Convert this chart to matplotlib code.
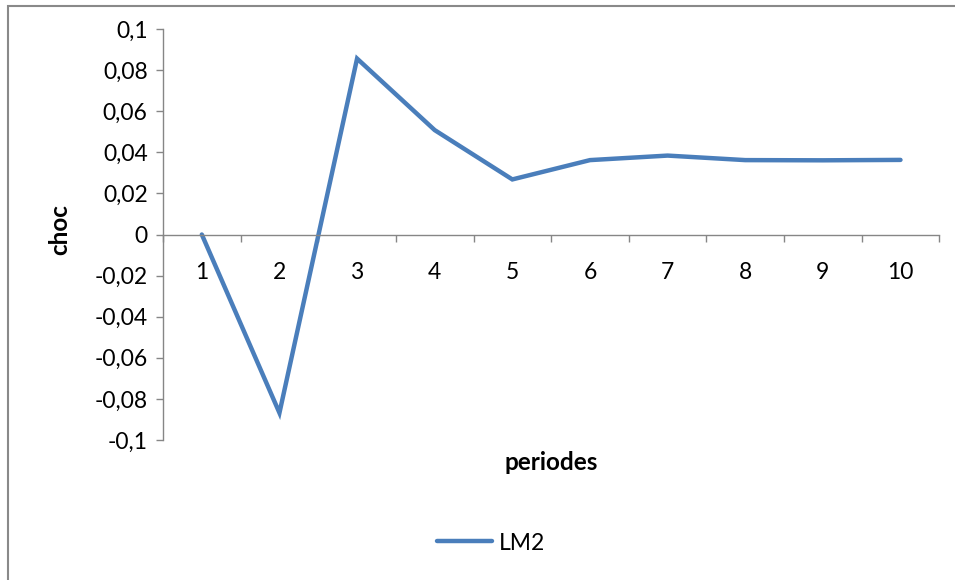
import matplotlib
matplotlib.use("Agg")
import matplotlib.pyplot as plt
from matplotlib.patches import Rectangle
from matplotlib.lines import Line2D
from matplotlib.ticker import FixedLocator, FuncFormatter

periods = [1, 2, 3, 4, 5, 6, 7, 8, 9, 10]
period_labels = ["1", "2", "3", "4", "5", "6", "7", "8", "9", "10"]
lm2 = [0.0, -0.0868, 0.0856, 0.0508, 0.0268, 0.0362, 0.0384, 0.0362, 0.0361, 0.0363]
yticks = [-0.1, -0.08, -0.06, -0.04, -0.02, 0.0, 0.02, 0.04, 0.06, 0.08, 0.1]

FONT = "Lato"
AXCOL = "#868686"
LINECOL = "#4A7EBB"
FS = 16.5
FSB = 17.5

plt.rcParams["font.family"] = [FONT, "DejaVu Sans"]

fig = plt.figure(figsize=(9.55, 5.8), dpi=100)
ax = fig.add_axes([163/955, 1-440/580, (939.3-163)/955, (440-29)/580])

ax.plot(periods, lm2, color=LINECOL, lw=3.2, solid_capstyle="round", solid_joinstyle="miter")

ax.set_xlim(0.5, 10.5)
ax.set_ylim(-0.1, 0.1)

for s in ["top", "right"]:
    ax.spines[s].set_visible(False)
ax.spines["bottom"].set_position(("data", 0))
for s in ["left", "bottom"]:
    ax.spines[s].set_color(AXCOL)
    ax.spines[s].set_linewidth(1.0)

ax.set_yticks(yticks)
ax.yaxis.set_major_formatter(FuncFormatter(lambda v, p: ("%g" % round(v, 2)).replace(".", ",")))
ax.tick_params(axis="y", direction="out", length=5, width=1.0, color=AXCOL, labelsize=FS, pad=6)

ax.set_xticks(periods)
ax.set_xticklabels(period_labels)
ax.xaxis.set_minor_locator(FixedLocator([p + 0.5 for p in [0] + periods]))
ax.tick_params(axis="x", which="major", length=0, labelsize=FS, pad=20)
ax.tick_params(axis="x", which="minor", direction="out", length=5, width=1.0, color=AXCOL)

fig.text(60/955, 1-230/580, "choc", rotation=90, ha="center", va="center", fontsize=FSB, fontweight="bold")
fig.text(551/955, 1-463/580, "periodes", ha="center", va="center", fontsize=FSB, fontweight="bold")

h = Line2D([], [], color=LINECOL, lw=3.2, solid_capstyle="round")
fig.legend([h], ["LM2"], loc="center", bbox_to_anchor=(491.5/955, 1-543/580), frameon=False,
           fontsize=FS, handlelength=2.4, handletextpad=0.3)

fig.patches.append(Rectangle((8/955, -0.1), 1.5, 0.1 + 1-6/580, transform=fig.transFigure,
                             fill=False, edgecolor="#898989", lw=1.5))

fig.savefig("out.png", dpi=100)
